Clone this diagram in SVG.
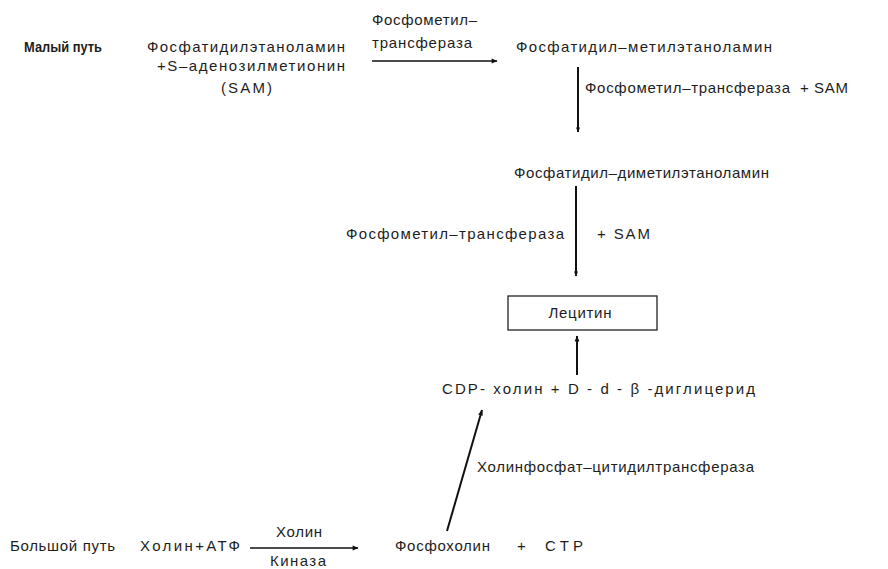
<svg xmlns="http://www.w3.org/2000/svg" width="888" height="569" viewBox="0 0 888 569">
<style>
text{font-family:"Liberation Sans",Arial,sans-serif;font-size:15px;fill:#1e1e1e}
.b{font-weight:bold;font-size:14px}
.ln{stroke:#111;stroke-width:2;fill:none}
.ln1{stroke:#111;stroke-width:1.6;fill:none}
</style>
<defs>
<marker id="ah" viewBox="0 0 10 10" refX="9" refY="5" markerWidth="7" markerHeight="5" orient="auto" markerUnits="userSpaceOnUse">
<path d="M0,1 L10,5 L0,9 Z" fill="#111"/>
</marker>
<marker id="ahl" viewBox="0 0 10 10" refX="9" refY="5" markerWidth="12" markerHeight="6" orient="auto" markerUnits="userSpaceOnUse">
<path d="M0,1 L10,5 L0,9 Z" fill="#111"/>
</marker>
</defs>
<rect width="888" height="569" fill="#fff"/>

<g id="labels">
<text class="b" x="24" y="52" textLength="78" lengthAdjust="spacingAndGlyphs">Малый путь</text>
<text x="10" y="551" textLength="105" lengthAdjust="spacing">Большой путь</text>
</g>

<g id="n-pe">
<text x="147" y="52" textLength="198" lengthAdjust="spacing">Фосфатидилэтаноламин</text>
<text x="157" y="71" textLength="188" lengthAdjust="spacing">+S–аденозилметионин</text>
<text x="221" y="93" textLength="51" lengthAdjust="spacing">(SAM)</text>
</g>

<g id="n-pme">
<text x="516" y="52" textLength="256" lengthAdjust="spacing">Фосфатидил–метилэтаноламин</text>
</g>

<g id="n-pdme">
<text x="514" y="178" textLength="255" lengthAdjust="spacing">Фосфатидил–диметилэтаноламин</text>
</g>

<g id="n-lecithin">
<rect x="508" y="296" width="149" height="34" fill="none" stroke="#222" stroke-width="1.3"/>
<text x="580" y="318" text-anchor="middle" textLength="63" lengthAdjust="spacing">Лецитин</text>
</g>

<g id="n-cdp">
<text x="442" y="394" textLength="313" lengthAdjust="spacing">CDP- холин + D - d - β -диглицерид</text>
</g>

<g id="n-choline">
<text x="140" y="551" textLength="100" lengthAdjust="spacing">Холин+АТФ</text>
</g>

<g id="n-phosphocholine">
<text x="395" y="551" textLength="95" lengthAdjust="spacing">Фосфохолин</text>
<text x="517" y="551">+</text>
<text x="545" y="551" textLength="38" lengthAdjust="spacing">CTP</text>
</g>

<g id="connectors">
<line class="ln1" x1="372" y1="61" x2="497" y2="61" marker-end="url(#ahl)"/>
<line class="ln" x1="578" y1="67" x2="578" y2="132" marker-end="url(#ah)"/>
<line class="ln" x1="576" y1="186" x2="576" y2="276" marker-end="url(#ah)"/>
<line class="ln" x1="577" y1="375" x2="577" y2="336" marker-end="url(#ahl)"/>
<line class="ln" x1="447" y1="531" x2="482" y2="410" marker-end="url(#ahl)"/>
<line class="ln1" x1="250" y1="548" x2="358" y2="548" marker-end="url(#ahl)"/>
</g>

<g id="connector-labels">
<text x="372" y="25" textLength="105" lengthAdjust="spacing">Фосфометил–</text>
<text x="372" y="48" textLength="100" lengthAdjust="spacing">трансфераза</text>
<text x="585" y="93" textLength="205" lengthAdjust="spacing">Фосфометил–трансфераза</text>
<text x="800" y="93">+</text>
<text x="814" y="93" textLength="34" lengthAdjust="spacing">SAM</text>
<text x="346" y="239" textLength="218" lengthAdjust="spacing">Фосфометил–трансфераза</text>
<text x="597" y="239" textLength="53" lengthAdjust="spacing">+ SAM</text>
<text x="477" y="472" textLength="277" lengthAdjust="spacing">Холинфосфат–цитидилтрансфераза</text>
<text x="276" y="537" textLength="46" lengthAdjust="spacing">Холин</text>
<text x="270" y="566" textLength="56" lengthAdjust="spacing">Киназа</text>
</g>
</svg>
